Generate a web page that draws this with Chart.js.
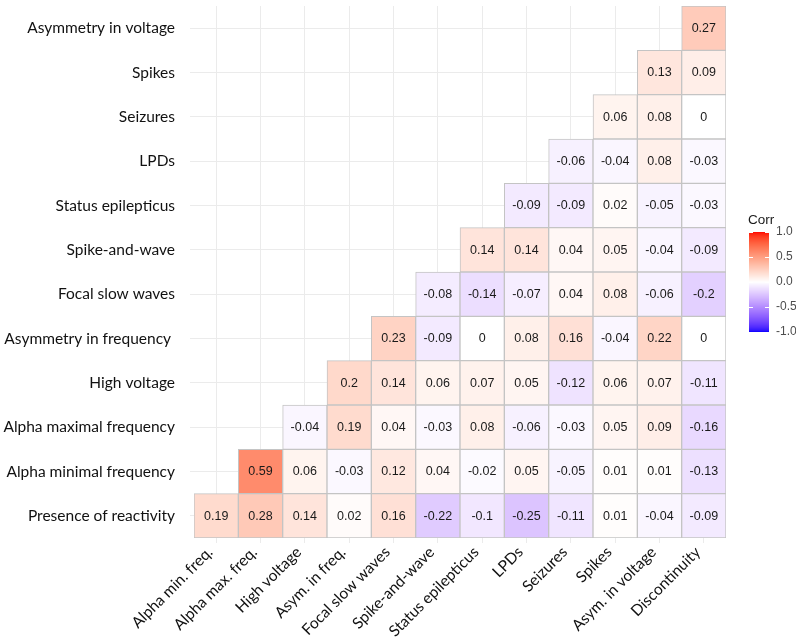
<!DOCTYPE html>
<html>
<head>
<meta charset="utf-8">
<script src="https://cdn.jsdelivr.net/npm/chart.js@4/dist/chart.umd.min.js"></script>
<style>
html,body{margin:0;padding:0;background:#fff;}
#wrap{width:796px;height:640px;}
</style>
</head>
<body>
<div id="wrap"><canvas id="c" width="796" height="640"></canvas></div>
<script>
// Column (x) categories
const xLabels = ["Alpha min. freq.","Alpha max. freq.","High voltage","Asym. in freq.","Focal slow waves","Spike-and-wave","Status epilepticus","LPDs","Seizures","Spikes","Asym. in voltage","Discontinuity"];
// Row (y) categories, bottom to top
const yLabels = ["Presence of reactivity","Alpha minimal frequency","Alpha maximal frequency","High voltage","Asymmetry in frequency ","Focal slow waves","Spike-and-wave","Status epilepticus","LPDs","Seizures","Spikes","Asymmetry in voltage"];
// Correlation values per row (row i starts at column i)
const rowReactivity   = [0.19, 0.28, 0.14, 0.02, 0.16, -0.22, -0.1, -0.25, -0.11, 0.01, -0.04, -0.09];
const rowAlphaMin     = [0.59, 0.06, -0.03, 0.12, 0.04, -0.02, 0.05, -0.05, 0.01, 0.01, -0.13];
const rowAlphaMax     = [-0.04, 0.19, 0.04, -0.03, 0.08, -0.06, -0.03, 0.05, 0.09, -0.16];
const rowHighVoltage  = [0.2, 0.14, 0.06, 0.07, 0.05, -0.12, 0.06, 0.07, -0.11];
const rowAsymFreq     = [0.23, -0.09, 0, 0.08, 0.16, -0.04, 0.22, 0];
const rowFocalSlow    = [-0.08, -0.14, -0.07, 0.04, 0.08, -0.06, -0.2];
const rowSpikeWave    = [0.14, 0.14, 0.04, 0.05, -0.04, -0.09];
const rowStatusEpi    = [-0.09, -0.09, 0.02, -0.05, -0.03];
const rowLPDs         = [-0.06, -0.04, 0.08, -0.03];
const rowSeizures     = [0.06, 0.08, 0];
const rowSpikes       = [0.13, 0.09];
const rowAsymVoltage  = [0.27];
const rows = [rowReactivity,rowAlphaMin,rowAlphaMax,rowHighVoltage,rowAsymFreq,rowFocalSlow,rowSpikeWave,rowStatusEpi,rowLPDs,rowSeizures,rowSpikes,rowAsymVoltage];
// Legend breaks
const legendBreaks = [1.0, 0.5, 0.0, -0.5, -1.0];

// --- Lab colour interpolation (like ggplot2 scale_fill_gradient2) ---
function srgbToLin(c){c/=255;return c<=0.04045?c/12.92:Math.pow((c+0.055)/1.055,2.4);}
function linToSrgb(c){c=c<=0.0031308?12.92*c:1.055*Math.pow(c,1/2.4)-0.055;return Math.round(Math.max(0,Math.min(1,c))*255);}
function rgb2lab(r,g,b){
  r=srgbToLin(r);g=srgbToLin(g);b=srgbToLin(b);
  let X=(0.4124*r+0.3576*g+0.1805*b)/0.95047, Y=(0.2126*r+0.7152*g+0.0722*b), Z=(0.0193*r+0.1192*g+0.9505*b)/1.08883;
  const f=t=>t>0.008856?Math.cbrt(t):(7.787*t+16/116);
  const fx=f(X),fy=f(Y),fz=f(Z);
  return [116*fy-16,500*(fx-fy),200*(fy-fz)];
}
function lab2rgb(L,a,b){
  const fy=(L+16)/116, fx=fy+a/500, fz=fy-b/200;
  const fi=t=>t*t*t>0.008856?t*t*t:(t-16/116)/7.787;
  const X=fi(fx)*0.95047, Y=fi(fy), Z=fi(fz)*1.08883;
  const r=3.2406*X-1.5372*Y-0.4986*Z, g=-0.9689*X+1.8758*Y+0.0415*Z, bb=0.0557*X-0.2040*Y+1.0570*Z;
  return [linToSrgb(r),linToSrgb(g),linToSrgb(bb)];
}
const LAB_LOW=rgb2lab(0,0,255), LAB_MID=rgb2lab(255,255,255), LAB_HIGH=rgb2lab(255,0,0);
function corrColor(v){
  const t=Math.min(1,Math.abs(v)); const end=v>=0?LAB_HIGH:LAB_LOW;
  const L=LAB_MID[0]+(end[0]-LAB_MID[0])*t, a=LAB_MID[1]+(end[1]-LAB_MID[1])*t, b=LAB_MID[2]+(end[2]-LAB_MID[2])*t;
  const c=lab2rgb(L,a,b); return `rgb(${c[0]},${c[1]},${c[2]})`;
}

const datasets = rows.map((vals, r) => ({
  label: yLabels[r],
  data: xLabels.map((_, c) => c >= r ? [r - 0.5, r + 0.5] : null),
  corr: xLabels.map((_, c) => c >= r ? vals[c - r] : null),
  backgroundColor: xLabels.map((_, c) => c >= r ? corrColor(vals[c - r]) : 'rgba(0,0,0,0)'),
  borderColor: '#c4c4c4',
  borderWidth: 1,
  borderSkipped: false,
  grouped: false,
  barPercentage: 1,
  categoryPercentage: 1
}));

const AXIS_FONT = {family: 'Lato, "Open Sans", sans-serif', size: 15.5};

const valueLabels = {
  id: 'valueLabels',
  afterDatasetsDraw(chart){
    const ctx=chart.ctx, xs=chart.scales.x, ys=chart.scales.y;
    ctx.save();
    ctx.font='12.5px "Liberation Sans", Arial, sans-serif';
    ctx.fillStyle='#1a1a1a'; ctx.textAlign='center'; ctx.textBaseline='middle';
    chart.data.datasets.forEach((ds, r) => {
      ds.corr.forEach((v, c) => {
        if (v === null) return;
        ctx.fillText(String(v), xs.getPixelForValue(c), ys.getPixelForValue(r) + 0.5);
      });
    });
    ctx.restore();
  }
};

const colorLegend = {
  id: 'colorLegend',
  afterDraw(chart){
    const ctx=chart.ctx;
    const x0=749, w=20, top=232, bottom=332;
    const pos=v=>top+(1-v)/2*(bottom-top);
    ctx.save();
    for(let y=top;y<bottom;y++){
      const v=1-((y+0.5-top)/(bottom-top))*2;
      ctx.fillStyle=corrColor(v); ctx.fillRect(x0,y,w,1);
    }
    ctx.strokeStyle='#ffffff'; ctx.lineWidth=1;
    legendBreaks.forEach(v=>{
      const y=Math.round(pos(v))+0.5;
      ctx.beginPath(); ctx.moveTo(x0,y); ctx.lineTo(x0+4,y); ctx.moveTo(x0+w-4,y); ctx.lineTo(x0+w,y); ctx.stroke();
    });
    ctx.fillStyle='#4d4d4d'; ctx.font='12px "Liberation Sans", Arial, sans-serif';
    ctx.textAlign='left'; ctx.textBaseline='middle';
    legendBreaks.forEach(v=>{ ctx.fillText(v.toFixed(1), 776, pos(v)); });
    ctx.fillStyle='#1a1a1a'; ctx.font='13.5px "Liberation Sans", Arial, sans-serif';
    ctx.fillText('Corr', 748, 220);
    ctx.restore();
  }
};

new Chart(document.getElementById('c'), {
  type: 'bar',
  data: { labels: xLabels, datasets },
  options: {
    responsive: false,
    animation: false,
    devicePixelRatio: 1,
    layout: { padding: { top: 6, right: 70, left: 0, bottom: 0 } },
    plugins: { legend: { display: false }, tooltip: { enabled: false } },
    scales: {
      x: {
        type: 'category',
        offset: true,
        grid: { offset: false, color: '#ebebeb', tickLength: 5, lineWidth: 1 },
        border: { display: false },
        ticks: { minRotation: 45, maxRotation: 45, autoSkip: false, font: AXIS_FONT, color: '#111', padding: 0, labelOffset: -6 },
        afterFit: s => { s.height = 102; s.paddingLeft = 0; s.paddingRight = 0; }
      },
      y: {
        type: 'linear',
        min: -0.5, max: 11.5,
        afterBuildTicks: s => { s.ticks = yLabels.map((_, i) => ({ value: i })); },
        grid: { color: '#ebebeb', tickLength: 4, lineWidth: 1 },
        border: { display: false },
        ticks: { callback: v => yLabels[v], font: AXIS_FONT, color: '#111', padding: 15, autoSkip: false },
        afterFit: s => { s.width = 194; s.paddingTop = 0; s.paddingBottom = 0; }
      }
    }
  },
  plugins: [valueLabels, colorLegend]
});
</script>
</body>
</html>
